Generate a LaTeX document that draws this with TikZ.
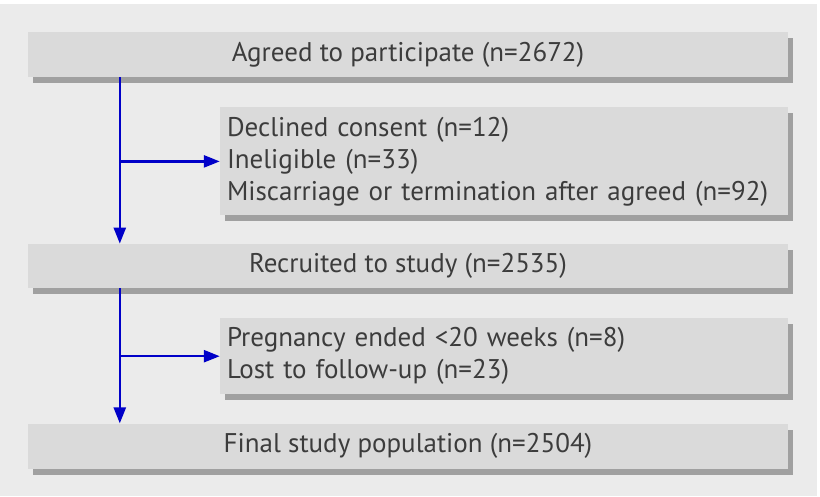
\documentclass[tikz,border=0pt]{standalone}
\usepackage{fontspec}
\setmainfont{PT Sans}
\usepackage{xcolor}
\usepackage{tikz}
\usetikzlibrary{arrows.meta, positioning, shadows}
\definecolor{panelgray}{RGB}{235,235,235}
\definecolor{boxgray}{RGB}{218,218,218}
\definecolor{shadowgray}{RGB}{160,160,160}
\definecolor{textgray}{RGB}{60,60,60}
\definecolor{flowblue}{RGB}{0,0,200}

\begin{document}
\begin{tikzpicture}[
  x=1pt, y=1pt,
  box/.style={fill=boxgray, minimum width=760pt, minimum height=45pt,
              inner sep=0pt, text=textgray, align=center,
              font=\fontsize{27}{32}\selectfont,
              drop shadow={shadow xshift=5pt, shadow yshift=-6pt,
                           fill=shadowgray, opacity=1}},
  sidebox/.style={box, minimum width=568pt, text width=554pt,
                  align=left, inner xsep=7pt},
  arrow/.style={-{Triangle[length=16pt, width=12pt]}, line width=2.5pt,
                color=flowblue},
]
\fill[white] (0,0) rectangle (820,-496);
\fill[panelgray] (0,-4) rectangle (817,-496);
\useasboundingbox (0,0) rectangle (820,-496);

\node[box] (agreed) at (408,-54.5) {Agreed to participate (n=2672)};
\node[sidebox, minimum height=108pt, below=30pt of agreed.south east,
      anchor=north east] (excluded)
  {Declined consent (n=12)\\
   Ineligible (n=33)\\
   Miscarriage or termination after agreed (n=92)};
\node[box, below=28pt of excluded.south east, anchor=north east,
      minimum height=44pt] (recruited) {Recruited to study (n=2535)};
\node[sidebox, minimum height=76pt, below=30pt of recruited.south east,
      anchor=north east] (lost)
  {Pregnancy ended <20 weeks (n=8)\\
   Lost to follow-up (n=23)};
\node[box, below=29pt of lost.south east, anchor=north east] (final)
  {Final study population (n=2504)};

\coordinate (trunk) at ([xshift=92pt]agreed.south west);
\coordinate (trunkb) at ([xshift=92pt]recruited.south west);

\draw[arrow] (trunk) -- (trunk |- recruited.north);
\draw[arrow] (trunk |- excluded.west) -- (excluded.west);
\draw[arrow] (trunkb) -- (trunkb |- final.north);
\draw[arrow] (trunkb |- lost.west) -- (lost.west);
\end{tikzpicture}
\end{document}
